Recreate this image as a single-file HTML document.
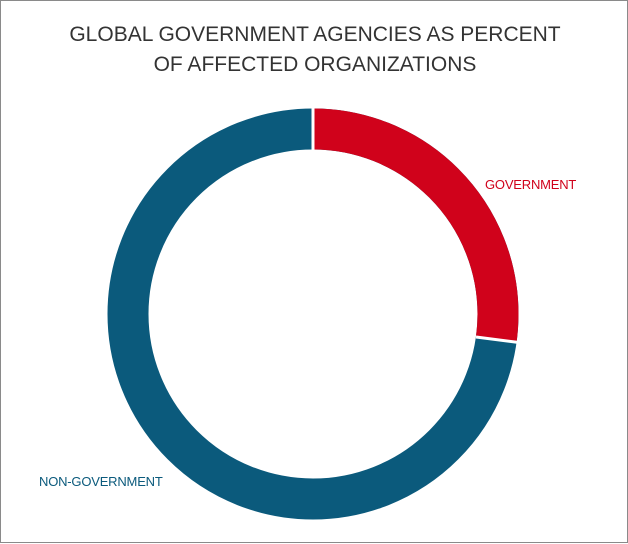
<!DOCTYPE html>
<html><head><style>
body{margin:0;background:#fff;}
.f{position:absolute;left:0;top:0;width:626px;height:541px;border:1px solid #8a8a8a;background:#fff;font-family:"Liberation Sans",sans-serif;}
.t{position:absolute;left:0;width:628px;text-align:center;font-size:21px;color:#333;letter-spacing:0px;}
.l{position:absolute;font-size:13px;letter-spacing:-0.2px;}
</style></head><body>
<div class="f">
<div class="t" style="top:22px">GLOBAL GOVERNMENT AGENCIES AS PERCENT</div>
<div class="t" style="top:52px">OF AFFECTED ORGANIZATIONS</div>
<svg width="628" height="543" style="position:absolute;left:0;top:0">
<g transform="translate(312,313) rotate(-90)">
<circle r="185" fill="none" stroke="#0b5a7c" stroke-width="41"/>
<circle r="185" fill="none" stroke="#d0021b" stroke-width="41" stroke-dasharray="315.5 2000"/>
</g>
<line x1="312" y1="100" x2="312" y2="155" stroke="#fff" stroke-width="3"/>
<line x1="475" y1="336" x2="522" y2="342" stroke="#fff" stroke-width="3"/>
</svg>
<div class="l" style="left:484px;top:176px;color:#d0021b">GOVERNMENT</div>
<div class="l" style="left:38px;top:473px;color:#0b5a7c">NON-GOVERNMENT</div>
</div>
</body></html>
